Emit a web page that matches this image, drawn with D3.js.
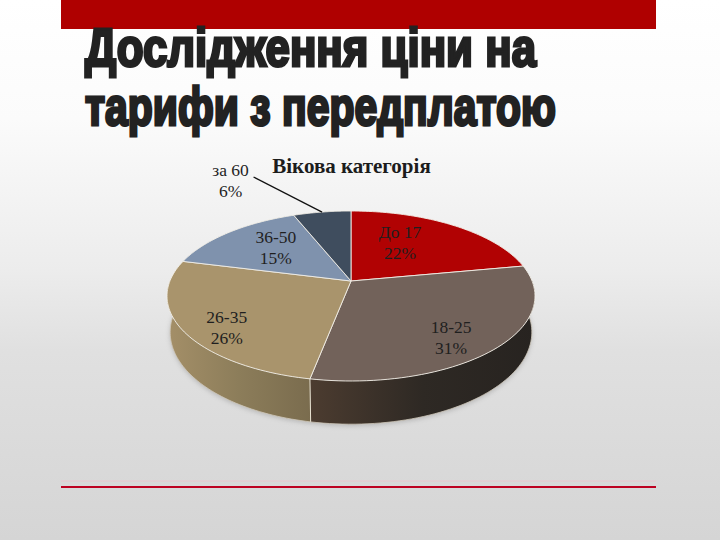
<!DOCTYPE html>
<html><head><meta charset="utf-8">
<script src="https://cdn.jsdelivr.net/npm/d3@7"></script>
<style>html,body{margin:0;padding:0;background:#fff}svg{display:block}</style>
</head><body><svg id="c" width="720" height="540"></svg>
<script>
const categories = ["До 17","18-25","26-35","36-50","за 60"];
const shares = [22,31,26,15,6];
const titleLines = ["Дослідження ціни на","тарифи з передплатою"];
const chartTitle = "Вікова категорія";

const topColors = ["#b10203","#72625a","#a9946c","#7f92ad","#3f4d5e"];
const wallStops = [null,["#4c3c30","#2e2924","#272320"],["#a48f68","#8c7d5a","#7a6c4e"],null,null];
const labelNudge = [[-15,2],[17,24],[-27,24],[1,3],[-102,-51]];

const svg = d3.select("#c");
const defs = svg.append("defs");
const bg = defs.append("linearGradient").attr("id","bg").attr("x1",0).attr("y1",0).attr("x2",0).attr("y2",1);
[[0,"#ffffff"],[.22,"#fbfbfb"],[.5,"#ececec"],[.65,"#e0e0e0"],[1,"#d5d5d5"]].forEach(([o,c])=>bg.append("stop").attr("offset",o).attr("stop-color",c));
defs.append("filter").attr("id","soft").append("feGaussianBlur").attr("stdDeviation",2.5);
svg.append("rect").attr("width",720).attr("height",540).attr("fill","url(#bg)");

// frame
svg.append("rect").attr("x",61).attr("y",0).attr("width",595).attr("height",29).attr("fill","#af0000");
svg.append("line").attr("x1",61).attr("x2",656).attr("y1",481).attr("y2",481).attr("stroke","#eec4cc").attr("stroke-width",.8);
svg.append("line").attr("x1",61).attr("x2",656).attr("y1",487).attr("y2",487).attr("stroke","#bd0020").attr("stroke-width",1.8);

// slide title
const widths=[451,471];
svg.selectAll("text.t").data(titleLines).join("text").attr("class","t")
  .attr("x",85).attr("y",(d,i)=>i?125:66)
  .attr("textLength",(d,i)=>widths[i]).attr("lengthAdjust","spacingAndGlyphs")
  .attr("font-family","'Liberation Sans Narrow','Liberation Sans',sans-serif")
  .attr("font-weight",700).attr("font-size",53)
  .attr("fill","#222").attr("stroke","#222").attr("stroke-width",3)
  .text(d=>d);

// perspective disc: maps (angle, radius) to the page
const A=3/17, CX=351;
const disc=(y0,b,c)=>(t,r=1)=>{const u=Math.sin(t),v=-Math.cos(t),w=1-A*r*v;return [CX+c*r*u/w,y0+b*r*v/w];};
const topDisc=disc(281,82.35,181.1), lowDisc=disc(316,89.1,178);
const arcs=d3.pie().sort(null).value(d=>d)(shares);
const line=d3.line();
const samples=(a,b)=>d3.range(0,61).map(i=>a+(b-a)*i/60);

// soft shadow
const shadow=samples(0,2*Math.PI).map(t=>{const p=lowDisc(t);return [p[0],p[1]+1.5];});
svg.append("path").attr("d",line(shadow)+"Z").attr("fill","#777").attr("opacity",.4).attr("filter","url(#soft)");

const clamp=(a,b)=>[Math.max(a,Math.PI/2-0.02),Math.min(b,3*Math.PI/2+0.02)];
arcs.forEach((d,i)=>{
  if(!wallStops[i])return;
  const [a,b]=clamp(d.startAngle,d.endAngle);
  const ts=samples(a,b);
  const pts=ts.map(t=>topDisc(t)).concat(ts.slice().reverse().map(t=>lowDisc(t)));
  const xs=d3.extent(pts,p=>p[0]);
  const g=defs.append("linearGradient").attr("id","w"+i).attr("gradientUnits","userSpaceOnUse")
    .attr("x1",xs[0]).attr("x2",xs[1]).attr("y1",0).attr("y2",0);
  wallStops[i].forEach((c,k)=>g.append("stop").attr("offset",k/(wallStops[i].length-1)).attr("stop-color",c));
  svg.append("path").attr("d",line(pts)+"Z").attr("fill",`url(#w${i})`);
  // pale lower edge of the wall
  svg.append("path").attr("d",line(ts.map(t=>lowDisc(t)))).attr("fill","none").attr("stroke","#cfc8ba").attr("stroke-width",.8);
});
// wall divider
const wallEdge=arcs[1].endAngle;
svg.append("path").attr("d",line([topDisc(wallEdge),lowDisc(wallEdge)])).attr("stroke","#e8e2d2").attr("stroke-width",1).attr("fill","none");

// top slices
svg.selectAll("path.s").data(arcs).join("path").attr("class","s")
  .attr("d",d=>line([topDisc(0,0)].concat(samples(d.startAngle,d.endAngle).map(t=>topDisc(t))))+"Z")
  .attr("fill",(d,i)=>topColors[i]).attr("stroke","#f2eee6").attr("stroke-width",.9).attr("stroke-linejoin","round");

// labels
const serif="'Liberation Serif','Times New Roman',serif";
arcs.forEach((d,i)=>{
  const p=topDisc((d.startAngle+d.endAngle)/2,.6);
  const x=p[0]+labelNudge[i][0], y=p[1]+labelNudge[i][1];
  const t=svg.append("text").attr("text-anchor","middle").attr("font-family",serif).attr("font-size",17.5).attr("fill","#1f1f1f");
  t.append("tspan").attr("x",x).attr("y",y-10).text(categories[i]);
  t.append("tspan").attr("x",x).attr("y",y+11).text(shares[i]+"%");
});
// leader
const last=arcs[4], lp=topDisc((last.startAngle+last.endAngle)/2,.6), rim=topDisc((last.startAngle+last.endAngle)/2);
svg.append("path").attr("d",line([[lp[0]+labelNudge[4][0]+23,lp[1]+labelNudge[4][1]-9],rim])).attr("stroke","#111").attr("stroke-width",1.3).attr("fill","none");

svg.append("text").attr("x",351.5).attr("y",173).attr("text-anchor","middle").attr("font-family",serif).attr("font-weight",700).attr("font-size",21).attr("fill","#1c1c1c").text(chartTitle);
</script></body></html>
